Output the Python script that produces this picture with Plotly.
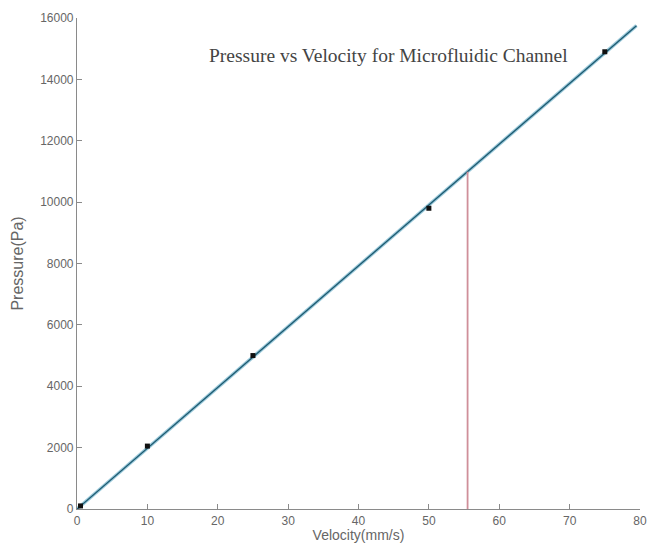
import plotly.graph_objects as go

# Measured data points
velocity = [0.5, 10, 25, 50, 75]
pressure = [100, 2050, 5000, 9800, 14900]

# Fitted line endpoints
fit_velocity = [0, 79.5]
fit_pressure = [0, 15750]

# Vertical marker line
marker_velocity = [55.5, 55.5]
marker_pressure = [0, 10990]

x_ticks = [0, 10, 20, 30, 40, 50, 60, 70, 80]
y_ticks = [0, 2000, 4000, 6000, 8000, 10000, 12000, 14000, 16000]

fig = go.Figure()
fig.add_trace(go.Scatter(x=fit_velocity, y=fit_pressure, mode="lines",
                         line=dict(color="#3a95b8", width=3.5), opacity=0.5,
                         showlegend=False, hoverinfo="skip"))
fig.add_trace(go.Scatter(x=fit_velocity, y=fit_pressure, mode="lines",
                         line=dict(color="#1d5a70", width=1.3),
                         showlegend=False))
fig.add_trace(go.Scatter(x=marker_velocity, y=marker_pressure, mode="lines",
                         line=dict(color="#cf8f9a", width=1.8),
                         showlegend=False))
fig.add_trace(go.Scatter(x=velocity, y=pressure, mode="markers",
                         marker=dict(color="#111111", size=5, symbol="square"),
                         showlegend=False))

fig.add_annotation(x=44.2, y=14780, text="Pressure vs Velocity for Microfluidic Channel",
                   showarrow=False, xref="x", yref="y",
                   font=dict(family="Liberation Serif", size=19.5, color="#444444"))

axis_common = dict(showgrid=False, zeroline=False, showline=True, automargin=False,
                   linecolor="#8a8a8a", linewidth=1.2,
                   ticks="inside", ticklen=5, tickcolor="#8a8a8a",
                   tickfont=dict(family="Liberation Sans", size=12, color="#666666"))

fig.update_layout(
    width=650, height=552,
    margin=dict(l=77, r=10, t=18, b=43),
    plot_bgcolor="white", paper_bgcolor="white",
    xaxis=dict(range=[0, 80], tickvals=x_ticks, ticktext=[str(v) for v in x_ticks],
               title=dict(text="Velocity(mm/s)", standoff=0,
                          font=dict(family="Liberation Sans", size=14, color="#666666")),
               **axis_common),
    yaxis=dict(range=[0, 16000], tickvals=y_ticks, ticktext=[str(v) for v in y_ticks],
               title=dict(text="Pressure(Pa)", standoff=12,
                          font=dict(family="Liberation Sans", size=16, color="#666666")),
               **axis_common),
)

fig.write_html("out.html", config={"displayModeBar": False},
               post_script="document.body.style.margin='0';document.body.style.overflow='hidden';")
